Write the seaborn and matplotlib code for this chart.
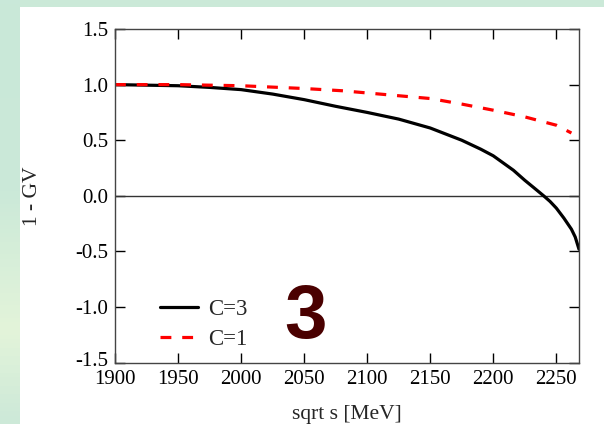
import numpy as np
import pandas as pd
import matplotlib
matplotlib.use("Agg")
from matplotlib import pyplot as plt
from matplotlib import transforms
from matplotlib.colors import LinearSegmentedColormap
import seaborn as sns

# values
sqrt_s_c3 = [1900, 1950, 1975, 2000, 2025, 2050, 2075, 2100, 2125, 2150, 2175,
             2190, 2200, 2216, 2225, 2232, 2240, 2245, 2250, 2256, 2262, 2265, 2268]
gv_c3 = [1.0, 0.99, 0.975, 0.955, 0.915, 0.865, 0.805, 0.75, 0.69, 0.61, 0.50,
         0.42, 0.36, 0.23, 0.14, 0.075, 0.0, -0.05, -0.11, -0.2, -0.3, -0.37, -0.48]

sqrt_s_c1 = [1900, 1950, 2000, 2050, 2080, 2100, 2125, 2150, 2175, 2200, 2225,
             2250, 2262]
gv_c1 = [1.0, 1.0, 0.99, 0.965, 0.945, 0.925, 0.9, 0.875, 0.825, 0.77, 0.71,
         0.635, 0.565]

x_ticks = [1900, 1950, 2000, 2050, 2100, 2150, 2200, 2250]
y_ticks = [-1.5, -1.0, -0.5, 0.0, 0.5, 1.0, 1.5]

df_c3 = pd.DataFrame({"sqrt_s": sqrt_s_c3, "gv": gv_c3})
df_c1 = pd.DataFrame({"sqrt_s": sqrt_s_c1, "gv": gv_c1})

sns.set_theme(style="ticks")
plt.rcParams["font.family"] = ["Liberation Serif", "DejaVu Serif"]

fig = plt.figure(figsize=(6.04, 4.24), dpi=100, facecolor="#cbe9d8")

# left strip gradient of the slide background
strip = fig.add_axes([0, 0, 20 / 604, 1])
grad = LinearSegmentedColormap.from_list(
    "bg", [(0, "#c9e8d9"), (0.45, "#cbe9d8"), (0.78, "#e3f4da"), (1, "#cde9d8")])
strip.imshow(np.linspace(0, 1, 100).reshape(-1, 1), aspect="auto", cmap=grad)
strip.set_axis_off()

# white panel
fig.patches.append(plt.Rectangle((20 / 604, 0), 1, 1 - 7 / 424, transform=fig.transFigure,
                                 facecolor="white", edgecolor="none", zorder=-5))

ax = fig.add_axes([115 / 604, 1 - 362.7 / 424, 464 / 604, 333.7 / 424])
ax.set_facecolor("white")

sns.lineplot(data=df_c3, x="sqrt_s", y="gv", ax=ax, color="black", lw=2.3,
             label="C=3", sort=False)
sns.lineplot(data=df_c1, x="sqrt_s", y="gv", ax=ax, color="#ff0000", lw=2.3,
             label="C=1", sort=False)
ax.lines[1].set_dashes((3.4, 3.4))
ax.axhline(0, color="#333333", lw=1.0, zorder=1)

ax.set_xlim(1900, 2268)
ax.set_ylim(-1.5, 1.5)
ax.set_xticks(x_ticks)
ax.set_yticks(y_ticks)
ax.set_yticklabels([f"{v:.1f}" for v in y_ticks])
ax.tick_params(direction="in", length=7, width=1, top=True, right=True,
               labelsize=15, colors="black", pad=5)
for s in ax.spines.values():
    s.set_color("#444444")
    s.set_linewidth(1.0)

# lift the bottom y label a little, as in the original
lbl = ax.get_yticklabels()[0]
lbl.set_transform(lbl.get_transform() + transforms.ScaledTranslation(0, 3 / 72, fig.dpi_scale_trans))

ax.set_xlabel("sqrt s [MeV]", fontsize=15.5, labelpad=12)
ax.set_ylabel("1 - GV", fontsize=15.5, labelpad=24)

leg = ax.legend(loc="upper left", bbox_to_anchor=(0.097, 0.19), frameon=False,
                fontsize=16.5, handlelength=1.66, handletextpad=0.44, labelspacing=0.36,
                borderpad=0, borderaxespad=0)
leg.get_lines()[1].set_dashes((3.4, 3.4))

fig.text(306 / 604, 1 - 338 / 424, "3", fontsize=55, fontweight="bold",
         family="Liberation Sans", color="#4a0000", ha="center", va="baseline")

fig.savefig("out.png", dpi=100, facecolor=fig.get_facecolor())
